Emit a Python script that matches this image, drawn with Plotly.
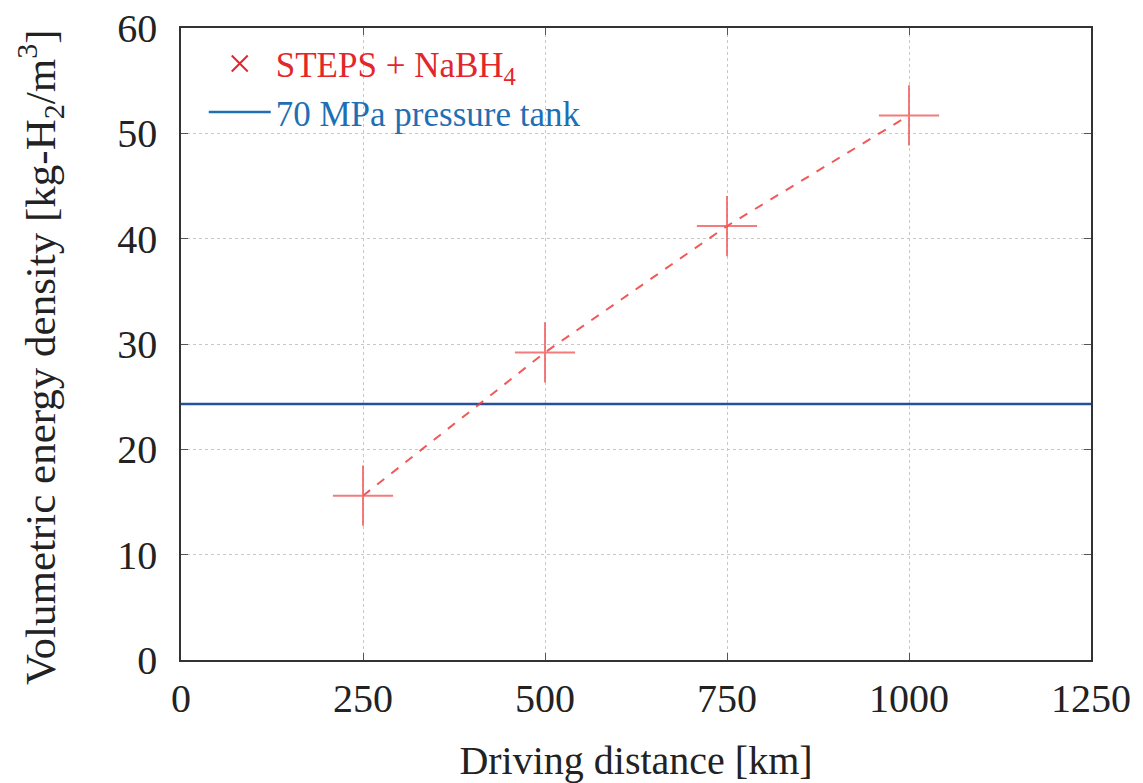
import plotly.graph_objects as go

distance_km = [250, 500, 750, 1000]
steps_density = [15.6, 29.2, 41.2, 51.7]
tank_x = [0, 1250]
tank_density = [24.3, 24.3]
x_ticks = [0, 250, 500, 750, 1000, 1250]
y_ticks = [0, 10, 20, 30, 40, 50, 60]

RED = "rgba(238,60,60,0.85)"
RED_TXT = "#e3262c"
BLUE_LINE = "#28509c"
BLUE_TXT = "#1f6fb4"
FONT = "Liberation Serif"

fig = go.Figure()

fig.add_trace(go.Scatter(
    x=tank_x, y=tank_density, mode="lines",
    line=dict(color=BLUE_LINE, width=2.5),
    showlegend=False, hoverinfo="skip"))

fig.add_trace(go.Scatter(
    x=distance_km, y=steps_density, mode="lines+markers",
    line=dict(color=RED, width=2, dash="dash"),
    marker=dict(symbol="cross-thin", size=43,
                line=dict(color="rgba(240,90,90,0.8)", width=2)),
    showlegend=False))

# legend entries
fig.add_trace(go.Scatter(
    x=[None], y=[None], mode="markers",
    marker=dict(symbol="x-thin", size=16, line=dict(color=RED_TXT, width=2)),
    name=f'<span style="color:{RED_TXT}">STEPS + NaBH<sub>4</sub></span>'))
fig.add_trace(go.Scatter(
    x=[None], y=[None], mode="lines",
    line=dict(color=BLUE_TXT, width=2.5),
    name=f'<span style="color:{BLUE_TXT}">70 MPa pressure tank</span>'))

axis_common = dict(
    showline=True, linecolor="#333", linewidth=1.5, mirror="ticks",
    ticks="inside", ticklen=7, tickcolor="#555",
    showgrid=True, gridcolor="#c8c8c8", griddash="dot", gridwidth=1,
    zeroline=False, automargin=False, ticklabeloverflow="allow",
    tickfont=dict(family=FONT, size=40, color="#222"),
)

fig.update_xaxes(range=[0, 1250], tickvals=x_ticks, ticklabelstandoff=2,
                 title=dict(text="Driving distance [km]",
                            font=dict(family=FONT, size=40, color="#222"),
                            standoff=27),
                 **axis_common)
fig.update_yaxes(range=[0, 60], tickvals=y_ticks, ticklabelstandoff=14,
                 **axis_common)

fig.add_annotation(
    text="Volumetric energy density [kg-H<sub>2</sub>/m<sup>3</sup>]",
    xref="paper", yref="paper", x=-0.155, y=0.5, yshift=-13,
    xanchor="center", yanchor="middle", textangle=-90, showarrow=False,
    font=dict(family=FONT, size=43, color="#222"))

# the page body has an 8px margin, so the figure is drawn 8px in from the top-left
fig.update_layout(
    width=1135, height=775,
    margin=dict(l=173, r=52, t=20, b=123),
    plot_bgcolor="white", paper_bgcolor="white",
    font=dict(family=FONT),
    legend=dict(x=0.025, y=0.99, xanchor="left", yanchor="top",
                bgcolor="rgba(255,255,255,0)",
                font=dict(family=FONT, size=35),
                itemwidth=62, tracegroupgap=0),
)

fig.write_html("out.html")
